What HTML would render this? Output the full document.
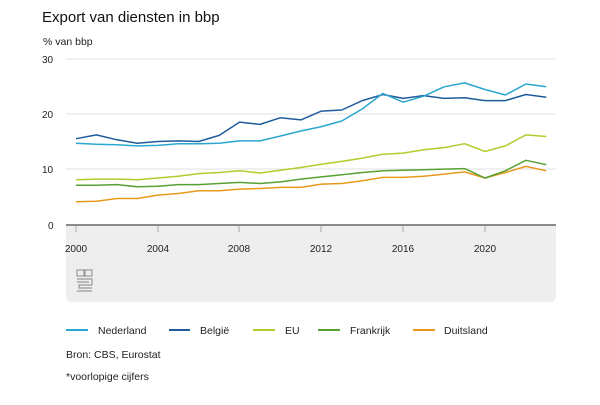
<!DOCTYPE html>
<html><head><meta charset="utf-8"><style>
body{margin:0;width:600px;height:400px;background:#fff;font-family:"Liberation Sans",Arial,sans-serif;overflow:hidden}
</style></head><body>
<svg id="s" width="600" height="400" xmlns="http://www.w3.org/2000/svg" font-family="Liberation Sans, Arial, sans-serif">
<text x="42" y="22" font-size="15" fill="#111">Export van diensten in bbp</text>
<text x="43" y="45" font-size="10.5" fill="#222">% van bbp</text>
<path d="M66,225 H556 V296 a6,6 0 0 1 -6,6 H72 a6,6 0 0 1 -6,-6 Z" fill="#eeeeee"/>
<g stroke="#e0e0e0" stroke-width="1">
<line x1="66" x2="556" y1="59" y2="59"/><line x1="66" x2="556" y1="114" y2="114"/><line x1="66" x2="556" y1="169" y2="169"/>
</g>
<line x1="66" x2="556" y1="225" y2="225" stroke="#666" stroke-width="1.5"/>
<g stroke="#aaa" stroke-width="1">
<line x1="76" x2="76" y1="226" y2="232"/><line x1="158" x2="158" y1="226" y2="232"/><line x1="239" x2="239" y1="226" y2="232"/><line x1="321" x2="321" y1="226" y2="232"/><line x1="403" x2="403" y1="226" y2="232"/><line x1="485" x2="485" y1="226" y2="232"/>
</g>
<g font-size="10" fill="#222">
<text x="42" y="63">30</text><text x="42" y="118">20</text><text x="42" y="173">10</text><text x="48" y="229">0</text>
</g>
<g font-size="10" fill="#222" text-anchor="middle">
<text x="76" y="252">2000</text><text x="158" y="252">2004</text><text x="239" y="252">2008</text><text x="321" y="252">2012</text><text x="403" y="252">2016</text><text x="485" y="252">2020</text>
</g>
<g fill="none" stroke="#999" stroke-width="1.2">
<rect x="77" y="270" width="7" height="6"/><rect x="85" y="270" width="7" height="6"/><path d="M77,279 H92 V285 H79 V288 H92 M77,282 H89 M77,291 H92"/>
</g>
<g id="lines" fill="none" stroke-width="1.5" stroke-linejoin="round"></g>
<g stroke-width="2">
<line x1="66" x2="88" y1="330" y2="330" stroke="#2aa6d0"/>
<line x1="169" x2="190" y1="330" y2="330" stroke="#1f5b9a"/>
<line x1="253" x2="275" y1="330" y2="330" stroke="#b2cc2e"/>
<line x1="318" x2="340" y1="330" y2="330" stroke="#57a033"/>
<line x1="413" x2="435" y1="330" y2="330" stroke="#e8991c"/>
</g>
<g font-size="10.5" fill="#222">
<text x="98" y="334">Nederland</text><text x="200" y="334">België</text><text x="285" y="334">EU</text><text x="350" y="334">Frankrijk</text><text x="444" y="334">Duitsland</text>
<text x="66" y="358">Bron: CBS, Eurostat</text>
<text x="66" y="380">*voorlopige cijfers</text>
</g>
</svg>
<script>
var d=[
["#e8991c",[4.2,4.3,4.8,4.8,5.4,5.7,6.2,6.2,6.5,6.6,6.8,6.8,7.4,7.5,8.0,8.6,8.6,8.8,9.2,9.6,8.5,9.5,10.6,9.8]],
["#57a033",[7.2,7.2,7.3,6.9,7.0,7.3,7.3,7.5,7.7,7.5,7.8,8.3,8.7,9.1,9.5,9.8,9.9,10.0,10.1,10.2,8.5,9.8,11.7,10.9]],
["#b2cc2e",[8.2,8.3,8.3,8.2,8.5,8.8,9.3,9.5,9.8,9.4,9.9,10.4,11.0,11.5,12.1,12.8,13.0,13.6,14.0,14.7,13.3,14.3,16.3,16.0]],
["#1f5b9a",[15.6,16.3,15.4,14.8,15.1,15.2,15.1,16.2,18.6,18.2,19.4,19.0,20.6,20.8,22.5,23.6,22.9,23.4,22.9,23.0,22.5,22.5,23.6,23.1]],
["#2aa6d0",[14.8,14.6,14.5,14.3,14.4,14.7,14.7,14.8,15.2,15.2,16.1,17.0,17.8,18.8,21.0,23.8,22.2,23.3,25.0,25.7,24.5,23.5,25.5,25.0]]
];
var g=document.getElementById("lines"),h="";
d.forEach(function(s){var p=s[1].map(function(v,i){return (76+i*20.45).toFixed(1)+","+(225-v*5.53).toFixed(1)}).join(" ");
h+='<polyline stroke="'+s[0]+'" points="'+p+'"/>';});
g.innerHTML=h;
</script>
</body></html>
